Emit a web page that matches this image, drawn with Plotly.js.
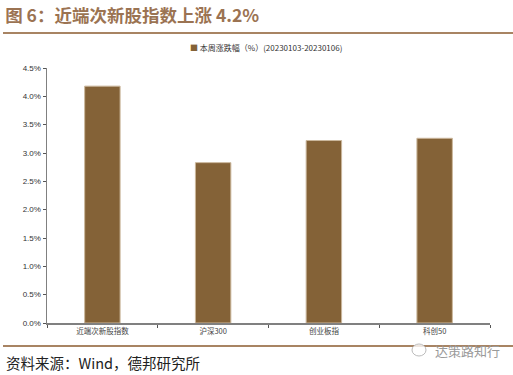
<!DOCTYPE html>
<html>
<head>
<meta charset="utf-8">
<script src="https://cdn.plot.ly/plotly-3.0.1.min.js"></script>
<style>
html,body{margin:0;padding:0;background:#fff;}
#chart{width:513px;height:375px;}
</style>
</head>
<body>
<div id="chart"></div>
<script>
const categories = ["近端次新股指数", "沪深300", "创业板指", "科创50"];
const weeklyChange = [0.0418, 0.0283, 0.0322, 0.0326];
const seriesName = "本周涨跌幅（%）(20230103-20230106)";
const titleText = "图 6：近端次新股指数上涨 4.2%";
const sourceText = "资料来源：Wind，德邦研究所";
const watermarkText = "达策路知行";

const FONT = '"Liberation Sans", Arial, "Noto Sans CJK SC", sans-serif';
const CJK = '"Noto Sans CJK SC", "Liberation Sans", sans-serif';
const brown = "#9b7352";
const barColor = "#846237";

const trace = {
  type: "bar",
  x: categories,
  y: weeklyChange,
  name: seriesName,
  width: 0.32,
  marker: {color: barColor, line: {color: "#cbb79c", width: 1}},
  showlegend: false
};

const L = 47, R = 490, T = 68, B = 323;
const px = X => (X - L) / (R - L);
const py = Y => (B - Y) / (B - T);

const layout = {
  width: 513, height: 375,
  margin: {l: L, r: 513 - R, t: T, b: 375 - B},
  paper_bgcolor: "#fff", plot_bgcolor: "#fff",
  font: {family: FONT, color: "#333", size: 8},
  title: {
    text: "<b>" + titleText + "</b>",
    font: {family: CJK, size: 17.5, color: brown},
    x: 0.01, xanchor: "left", xref: "container",
    y: 1 - 16 / 375, yanchor: "middle", yref: "container"
  },
  showlegend: false,
  xaxis: {
    type: "category",
    showline: true, linecolor: "#808080", linewidth: 1.5,
    ticks: "outside", tickson: "boundaries", ticklen: 3, tickcolor: "#555", tickwidth: 1,
    tickfont: {family: CJK, size: 7.5, color: "#444"},
    showgrid: false, zeroline: false, fixedrange: true
  },
  yaxis: {
    range: [0, 0.045], dtick: 0.005, tick0: 0, tickformat: ".1%",
    showline: true, linecolor: "#808080", linewidth: 1.5,
    ticks: "outside", ticklen: 3, tickcolor: "#555", tickwidth: 1,
    tickfont: {family: FONT, size: 8, color: "#333"},
    showgrid: false, zeroline: false, fixedrange: true
  },
  shapes: [
    {type: "line", xref: "paper", yref: "paper", x0: px(3), x1: px(513), y0: py(33), y1: py(33),
     line: {color: "#a88463", width: 2}},
    {type: "line", xref: "paper", yref: "paper", x0: px(3), x1: px(513), y0: py(346), y1: py(346),
     line: {color: "#a88463", width: 2}},
    {type: "circle", xref: "paper", yref: "paper", x0: px(412), x1: px(426), y0: py(344), y1: py(356),
     line: {color: "#bbbbbb", width: 1}, fillcolor: "rgba(255,255,255,0.8)"}
  ],
  annotations: [
    {text: '<span style="color:' + barColor + '">■</span> ' + seriesName,
     xref: "paper", yref: "paper", x: px(266), y: py(47),
     xanchor: "center", yanchor: "middle", showarrow: false,
     font: {family: CJK, size: 8, color: "#333"}},
    {text: sourceText, xref: "paper", yref: "paper", x: px(4), y: py(363),
     xanchor: "left", yanchor: "middle", showarrow: false,
     font: {family: CJK, size: 14.5, color: "#222"}},
    {text: watermarkText, xref: "paper", yref: "paper", x: px(433), y: py(350),
     xanchor: "left", yanchor: "middle", showarrow: false,
     font: {family: CJK, size: 13, color: "#9a9a9a"}}
  ]
};

Plotly.newPlot("chart", [trace], layout, {displayModeBar: false, staticPlot: true});
</script>
</body>
</html>
